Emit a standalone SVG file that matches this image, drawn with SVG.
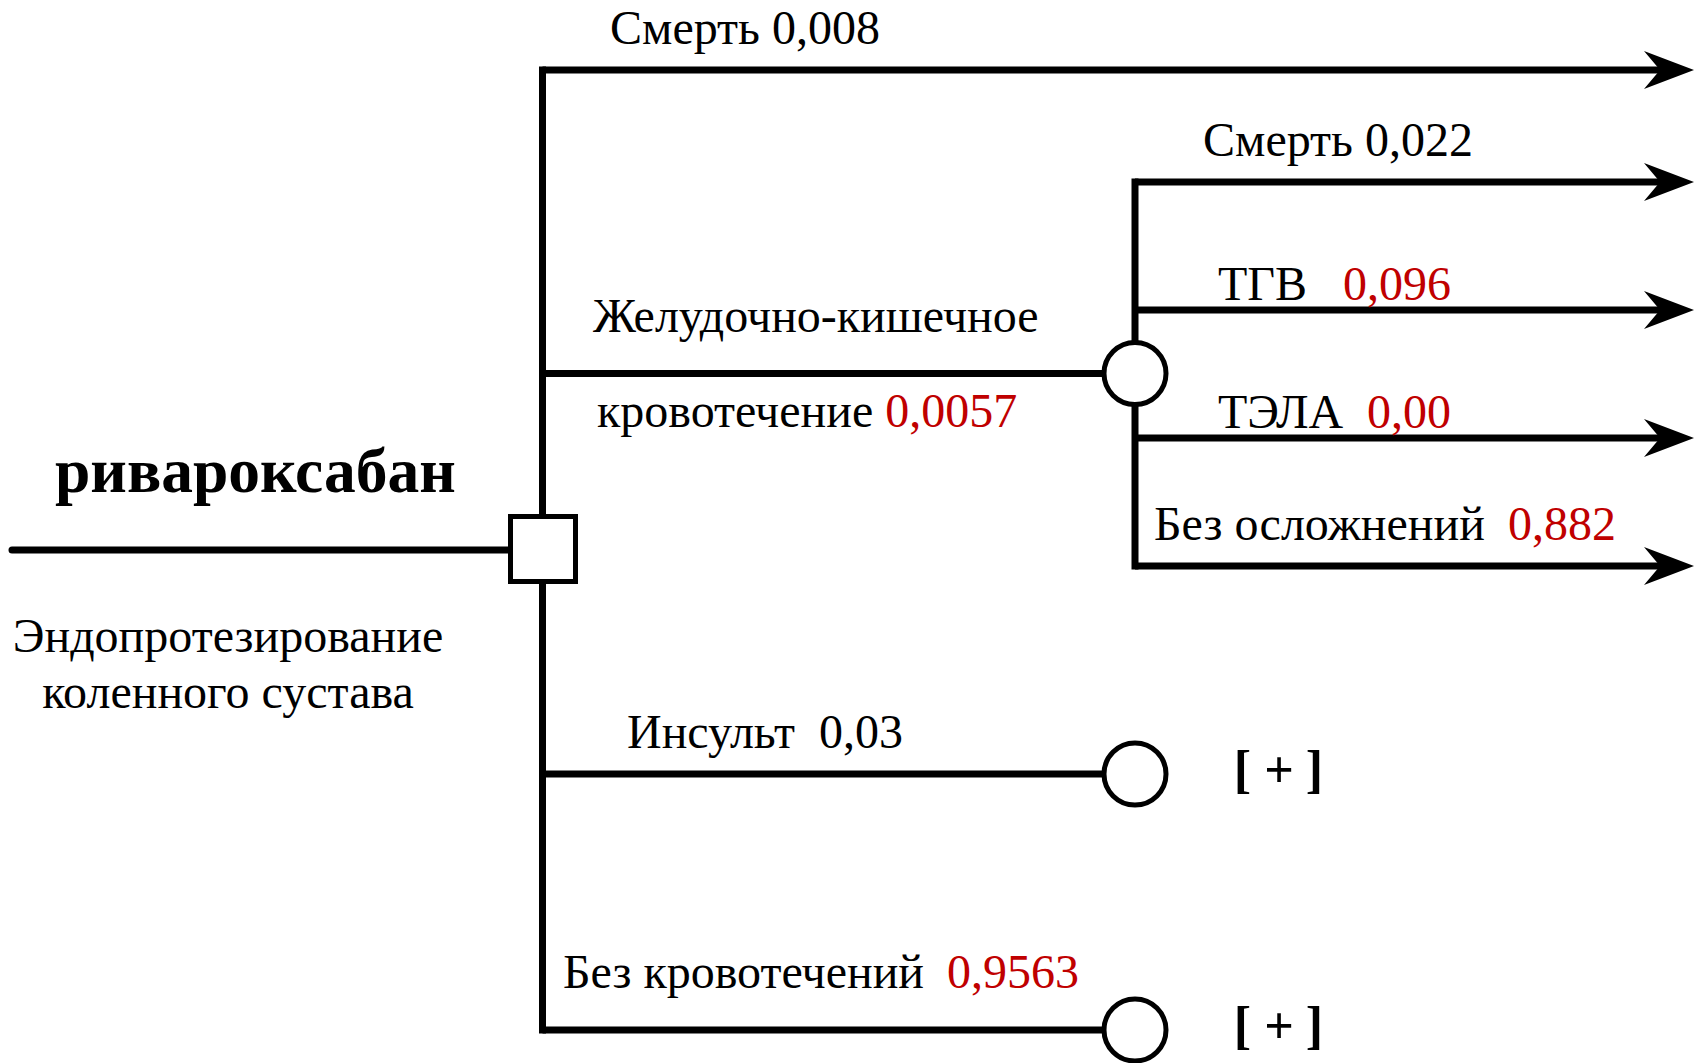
<svg xmlns="http://www.w3.org/2000/svg" width="1706" height="1063" viewBox="0 0 1706 1063">
<style>
  text { font-family: "Liberation Serif", "Times New Roman", serif; font-size: 48px; fill: #000; white-space: pre; }
  .red { fill: #C00000; }
  .bold { font-weight: bold; font-size: 63.5px; }
  .br { font-weight: bold; font-size: 52px; text-anchor: middle; }
  .ln { stroke: #000; stroke-width: 7; fill: none; }
  .node { stroke: #000; stroke-width: 5; fill: #fff; }
</style>
<defs>
  <marker id="arr" viewBox="0 0 50 38" refX="16" refY="19" markerWidth="50" markerHeight="38" markerUnits="userSpaceOnUse" orient="auto">
    <path d="M0,0 L50,19 L0,38 L16,19 Z" fill="#000"/>
  </marker>
</defs>
<g id="connectors">
  <line class="ln" x1="12" y1="550" x2="510" y2="550" stroke-linecap="round"/>
  <line class="ln" x1="542.5" y1="70" x2="542.5" y2="1030" stroke-linecap="square"/>
  <line class="ln" x1="542.5" y1="70" x2="1660" y2="70" marker-end="url(#arr)"/>
  <line class="ln" x1="542.5" y1="373.5" x2="1103" y2="373.5"/>
  <line class="ln" x1="542.5" y1="774" x2="1103" y2="774"/>
  <line class="ln" x1="542.5" y1="1030" x2="1103" y2="1030"/>
  <line class="ln" x1="1135" y1="182" x2="1135" y2="566" stroke-linecap="square"/>
  <line class="ln" x1="1135" y1="182" x2="1660" y2="182" marker-end="url(#arr)"/>
  <line class="ln" x1="1135" y1="310" x2="1660" y2="310" marker-end="url(#arr)"/>
  <line class="ln" x1="1135" y1="438" x2="1660" y2="438" marker-end="url(#arr)"/>
  <line class="ln" x1="1135" y1="566" x2="1660" y2="566" marker-end="url(#arr)"/>
</g>
<g id="decision">
  <rect class="node" x="510.5" y="516.5" width="65" height="65" stroke-width="4.5"/>
  <text class="bold" x="55" y="492">ривароксабан</text>
  <text x="228" y="652" text-anchor="middle">Эндопротезирование</text>
  <text x="228" y="708" text-anchor="middle">коленного сустава</text>
</g>
<g id="death1">
  <text x="610" y="44">Смерть 0,008</text>
</g>
<g id="gi-bleeding">
  <circle class="node" cx="1135" cy="373.5" r="31"/>
  <text x="593" y="332">Желудочно-кишечное</text>
  <text x="597" y="427">кровотечение <tspan class="red">0,0057</tspan></text>
</g>
<g id="death2">
  <text x="1203" y="156">Смерть 0,022</text>
</g>
<g id="tgv">
  <text x="1218" y="300">ТГВ</text>
  <text class="red" x="1343" y="300">0,096</text>
</g>
<g id="tela">
  <text x="1218" y="428">ТЭЛА</text>
  <text class="red" x="1367" y="428">0,00</text>
</g>
<g id="no-compl">
  <text x="1154" y="540">Без осложнений</text>
  <text class="red" x="1508" y="540">0,882</text>
</g>
<g id="stroke">
  <circle class="node" cx="1135" cy="774" r="31"/>
  <text x="627" y="748">Инсульт  0,03</text>
  <text class="br" y="787"><tspan x="1242.5">[</tspan><tspan x="1279">+</tspan><tspan x="1314.5">]</tspan></text>
</g>
<g id="no-bleeding">
  <circle class="node" cx="1135" cy="1030" r="31"/>
  <text x="563" y="988">Без кровотечений</text>
  <text class="red" x="947" y="988">0,9563</text>
  <text class="br" y="1043"><tspan x="1242.5">[</tspan><tspan x="1279">+</tspan><tspan x="1314.5">]</tspan></text>
</g>
</svg>
